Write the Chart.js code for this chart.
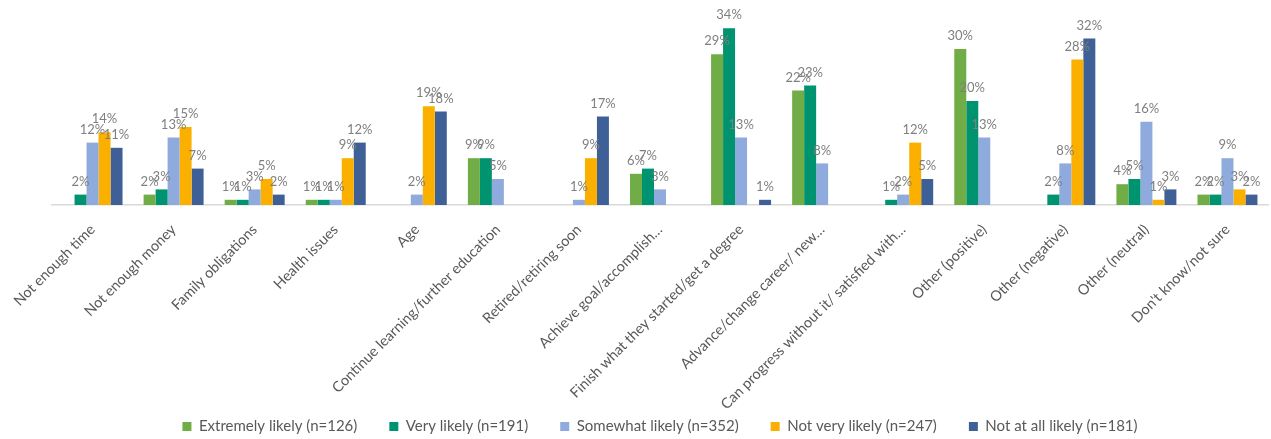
<!DOCTYPE html>
<html>
<head>
<meta charset="utf-8">
<title>Reasons</title>
<script src="https://cdn.jsdelivr.net/npm/chart.js@4/dist/chart.umd.min.js"></script>
<style>
  html, body { margin: 0; padding: 0; background: #fff; }
  #wrap { width: 1271px; height: 439px; position: relative; }
</style>
</head>
<body>
<div id="wrap"><canvas id="reasons-chart"></canvas></div>
<script>
const categories = [
  "Not enough time",
  "Not enough money",
  "Family obligations",
  "Health issues",
  "Age",
  "Continue learning/further education",
  "Retired/retiring soon",
  "Achieve goal/accomplish…",
  "Finish what they started/get a degree",
  "Advance/change career/ new…",
  "Can progress without it/ satisfied with…",
  "Other (positive)",
  "Other (negative)",
  "Other (neutral)",
  "Don't know/not sure",
];

// percentages per group, null where no bar is shown
const extremelyLikely = [null, 2, 1, 1, null, 9, null, 6, 29, 22, null, 30, null, 4, 2];
const veryLikely      = [2, 3, 1, 1, null, 9, null, 7, 34, 23, 1, 20, 2, 5, 2];
const somewhatLikely  = [12, 13, 3, 1, 2, 5, 1, 3, 13, 8, 2, 13, 8, 16, 9];
const notVeryLikely   = [14, 15, 5, 9, 19, null, 9, null, null, null, 12, null, 28, 1, 3];
const notAtAllLikely  = [11, 7, 2, 12, 18, null, 17, null, 1, null, 5, null, 32, 3, 2];

const seriesNames = [
  "Extremely likely (n=126)",
  "Very likely (n=191)",
  "Somewhat likely (n=352)",
  "Not very likely (n=247)",
  "Not at all likely (n=181)",
];
const seriesColors = ["#70ad47", "#00936f", "#8faadc", "#fbb000", "#3f6096"];
const seriesData = [extremelyLikely, veryLikely, somewhatLikely, notVeryLikely, notAtAllLikely];

// writes the percentage above each bar
const valueLabels = {
  id: "valueLabels",
  afterDatasetsDraw(chart) {
    const ctx = chart.ctx;
    ctx.save();
    ctx.font = "13px Lato";
    ctx.fillStyle = "#7f7f7f";
    ctx.textAlign = "center";
    ctx.textBaseline = "middle";
    chart.data.datasets.forEach((ds, i) => {
      chart.getDatasetMeta(i).data.forEach((bar, j) => {
        const v = ds.data[j];
        if (v == null) return;
        ctx.fillText(v + "%", bar.x, bar.y - 13);
      });
    });
    ctx.restore();
  },
};

// let the long slanted category names run past the axis box instead of being clipped
const longTicks = {
  id: "longTicks",
  afterLayout(chart) {
    chart.scales.x.bottom = chart.height;
  },
};

new Chart(document.getElementById("reasons-chart"), {
  type: "bar",
  data: {
    labels: categories,
    datasets: seriesData.map((values, i) => ({
      label: seriesNames[i],
      data: values,
      backgroundColor: seriesColors[i],
      borderWidth: 0,
      barPercentage: 1,
      categoryPercentage: 0.74,
    })),
  },
  options: {
    responsive: true,
    maintainAspectRatio: false,
    animation: false,
    layout: { padding: { left: 52, right: 3, top: 10, bottom: 0 } },
    plugins: {
      tooltip: { enabled: false },
      legend: {
        position: "bottom",
        maxHeight: 52,
        labels: {
          boxWidth: 9,
          boxHeight: 9,
          padding: 32,
          color: "#595959",
          font: { family: "Lato", size: 15 },
        },
      },
    },
    scales: {
      x: {
        grid: { display: false },
        border: { display: true, color: "#d9d9d9", width: 1.5 },
        ticks: {
          autoSkip: false,
          minRotation: 45,
          maxRotation: 45,
          padding: 8,
          color: "#595959",
          font: { family: "Lato", size: 14.5 },
        },
        afterFit(scale) {
          scale.height = 182;
        },
      },
      y: {
        display: false,
        min: 0,
        max: 37.5,
      },
    },
  },
  plugins: [valueLabels, longTicks],
});
</script>
</body>
</html>
